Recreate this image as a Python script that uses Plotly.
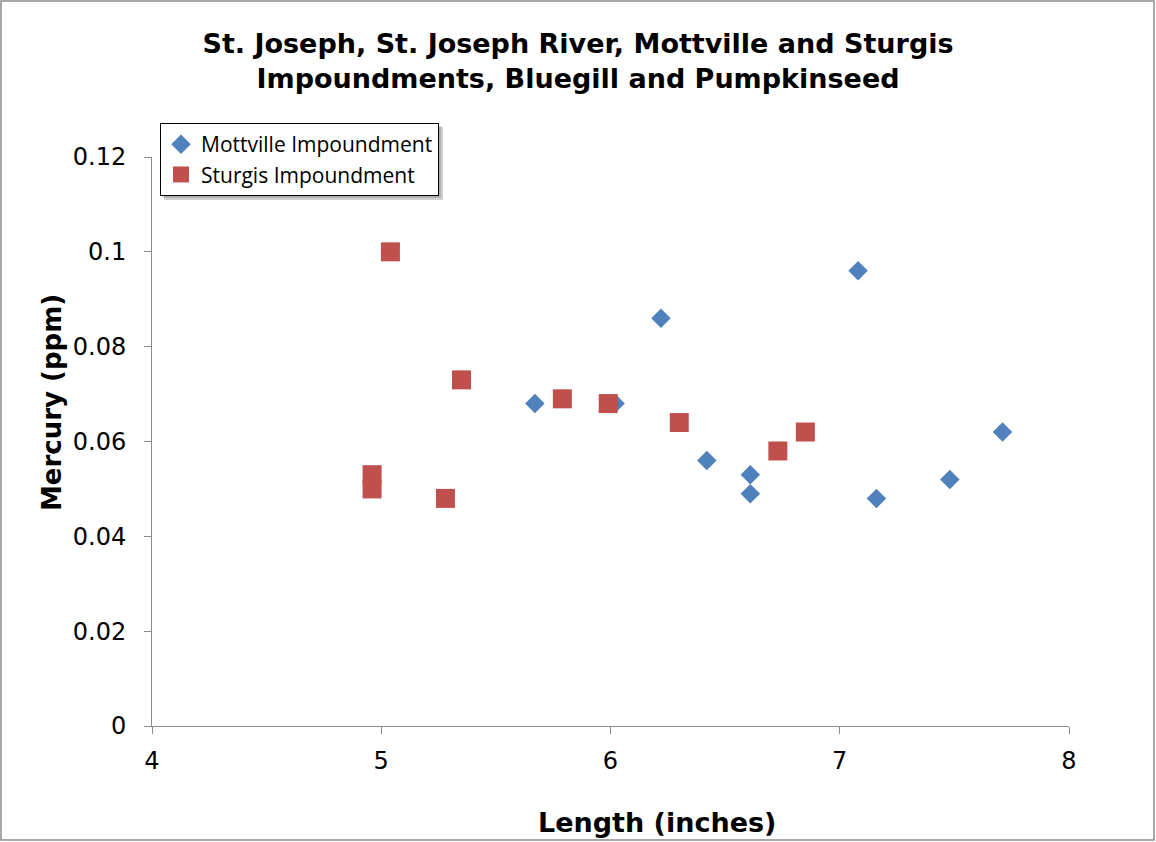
import plotly.graph_objects as go

mott_x = [5.67, 6.02, 6.22, 6.42, 6.61, 6.61, 7.08, 7.16, 7.48, 7.71]
mott_y = [0.068, 0.068, 0.086, 0.056, 0.053, 0.049, 0.096, 0.048, 0.052, 0.062]
stur_x = [4.96, 4.96, 5.04, 5.28, 5.35, 5.79, 5.99, 6.30, 6.73, 6.85]
stur_y = [0.053, 0.050, 0.100, 0.048, 0.073, 0.069, 0.068, 0.064, 0.058, 0.062]

x_ticks = [4, 5, 6, 7, 8]
y_ticks = [0, 0.02, 0.04, 0.06, 0.08, 0.1, 0.12]
y_tick_text = ["0", "0.02", "0.04", "0.06", "0.08", "0.1", "0.12"]

W, H = 1156, 842
L, R, T, B = 152, 87, 157, 116
PW, PH = W - L - R, H - T - B


def px(x):
    return (x - L) / PW


def py(y):
    return (H - B - y) / PH


FONT = "DejaVu Sans, Liberation Sans, Arial"

fig = go.Figure()
fig.add_trace(go.Scatter(x=mott_x, y=mott_y, mode="markers", name="Mottville Impoundment",
                         marker=dict(symbol="diamond", size=15, color="#4F81BD")))
fig.add_trace(go.Scatter(x=stur_x, y=stur_y, mode="markers", name="Sturgis Impoundment",
                         marker=dict(symbol="square", size=19, color="#C0504D")))

axis_common = dict(showgrid=False, zeroline=False, showline=True, linecolor="#8c8c8c", linewidth=1,
                   ticks="outside", tickcolor="#8c8c8c", ticklen=7,
                   tickfont=dict(family=FONT, size=24, color="black"))

fig.update_xaxes(range=[4, 8], tickvals=x_ticks, ticklabelstandoff=6, **axis_common)
fig.update_yaxes(range=[0, 0.12], tickvals=y_ticks, ticktext=y_tick_text, ticklabelstandoff=13, **axis_common)

fig.update_layout(
    width=W, height=H,
    margin=dict(l=L, r=R, t=T, b=B),
    paper_bgcolor="white", plot_bgcolor="white",
    title=dict(text="<b>St. Joseph, St. Joseph River, Mottville and Sturgis<br>Impoundments, Bluegill and Pumpkinseed</b>",
               x=0.5, xanchor="center", y=0.9375, yanchor="top",
               font=dict(family=FONT, size=27, color="black")),
    legend=dict(x=px(160), y=py(123), xanchor="left", yanchor="top", bgcolor="white",
                bordercolor="black", borderwidth=1, itemwidth=30,
                font=dict(family="Open Sans, Noto Sans", size=21, color="black"),
                tracegroupgap=0),
    annotations=[
        dict(text="<b>Length (inches)</b>", xref="paper", yref="paper", x=px(657), y=py(822),
             xanchor="center", yanchor="middle", showarrow=False,
             font=dict(family=FONT, size=27, color="black")),
        dict(text="<b>Mercury (ppm)</b>", xref="paper", yref="paper", x=px(52), y=py(403),
             xanchor="center", yanchor="middle", showarrow=False, textangle=-90,
             font=dict(family=FONT, size=26, color="black")),
    ],
    shapes=[
        dict(type="rect", xref="paper", yref="paper", x0=px(1), x1=px(1154), y0=py(840), y1=py(1),
             line=dict(color="#8c8c8c", width=1.5), fillcolor="rgba(0,0,0,0)", layer="below"),
        dict(type="rect", xref="paper", yref="paper", x0=px(164), x1=px(443), y0=py(200), y1=py(127),
             line=dict(width=0), fillcolor="rgba(0,0,0,0.18)", layer="above"),
        dict(type="rect", xref="paper", yref="paper", x0=px(163), x1=px(441), y0=py(198), y1=py(126),
             line=dict(width=0), fillcolor="rgba(0,0,0,0.15)", layer="above"),
    ],
    showlegend=True,
)

fig.write_html("out.html", post_script="document.body.style.margin='0px';",
               config={"displayModeBar": False})
